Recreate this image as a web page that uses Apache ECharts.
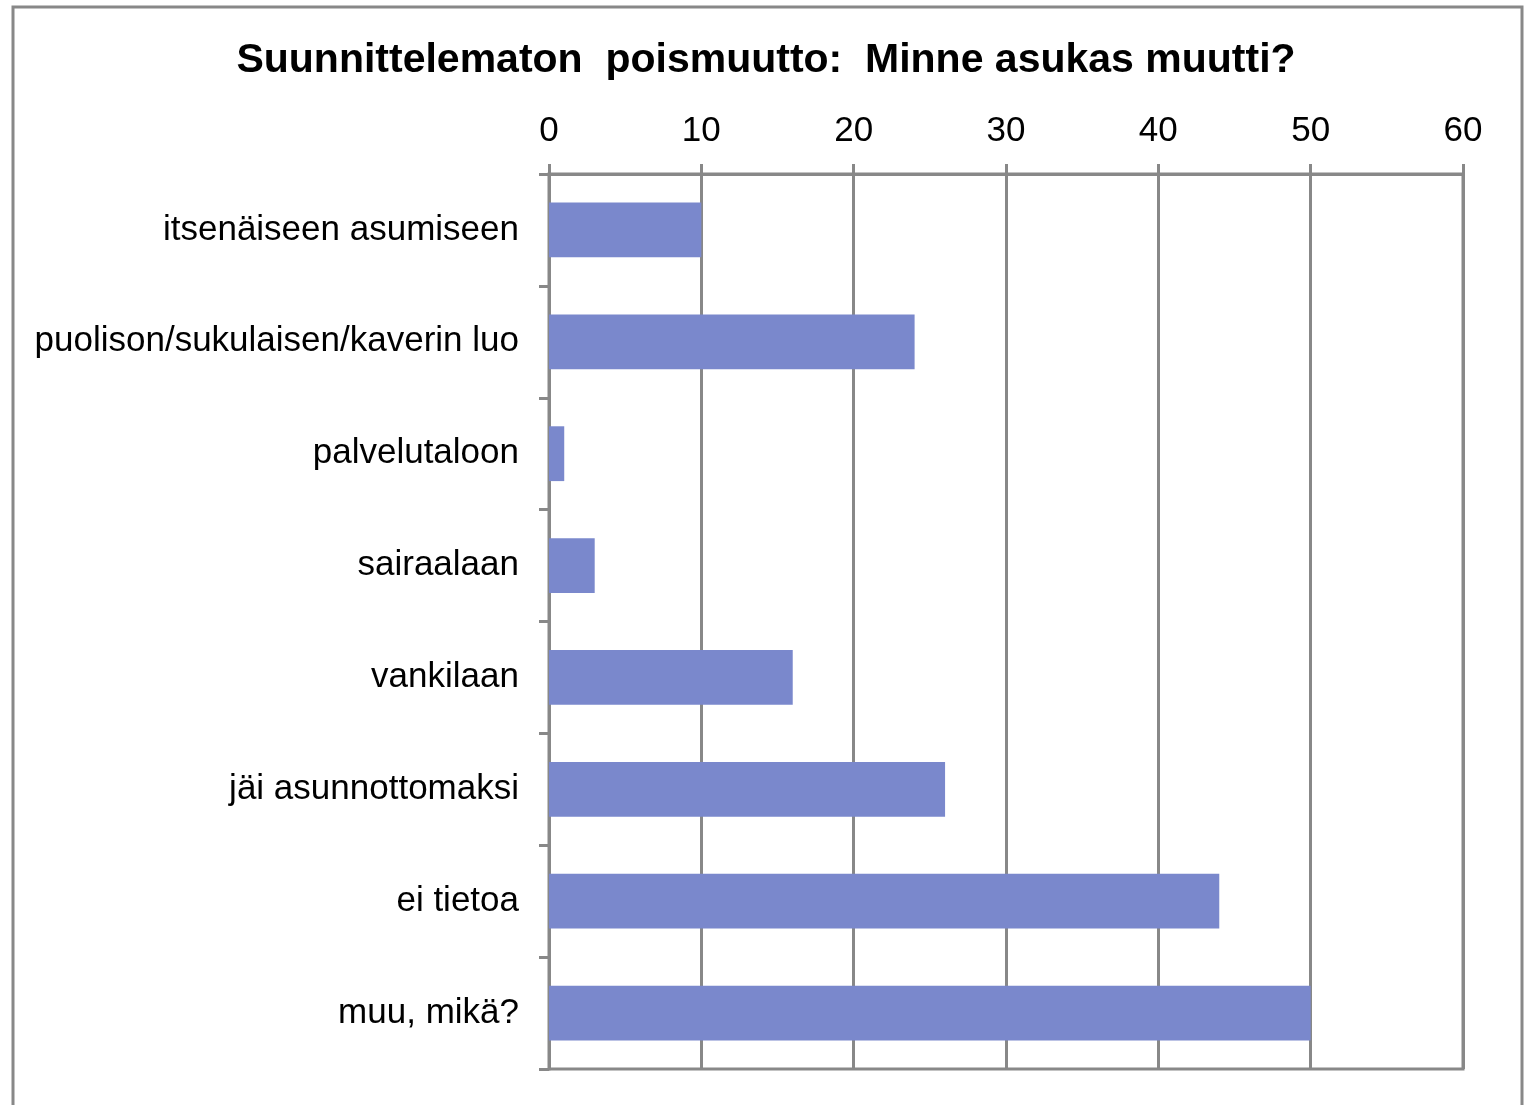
<!DOCTYPE html>
<html>
<head>
<meta charset="utf-8">
<script src="https://cdn.jsdelivr.net/npm/echarts@6/dist/echarts.min.js"></script>
<style>
  html, body { margin: 0; padding: 0; background: #fff; }
  #main { width: 1532px; height: 1105px; }
</style>
</head>
<body>
<div id="main"></div>
<script>
var categories = [
    'itsenäiseen asumiseen',
    'puolison/sukulaisen/kaverin luo',
    'palvelutaloon',
    'sairaalaan',
    'vankilaan',
    'jäi asunnottomaksi',
    'ei tietoa',
    'muu, mikä?'
];
var counts = [10, 24, 1, 3, 16, 26, 44, 50];
var titleText = 'Suunnittelematon  poismuutto:  Minne asukas muutti?';

var chartDom = document.getElementById('main');
var myChart = echarts.init(chartDom);
var option;

var gray = '#888888';

option = {
    backgroundColor: '#ffffff',
    animation: false,
    title: {
        text: titleText,
        left: 'center',
        top: 35,
        textStyle: {
            fontFamily: 'Liberation Sans, Arial',
            fontSize: 41,
            fontWeight: 'bold',
            color: '#000'
        }
    },
    graphic: [
        {
            type: 'rect',
            shape: { x: 13, y: 7, width: 1509, height: 1120 },
            style: { fill: 'none', stroke: gray, lineWidth: 3 },
            silent: true
        }
    ],
    grid: {
        left: 549,
        right: 69,
        top: 174,
        bottom: 36,
        show: true,
        borderColor: gray,
        borderWidth: 3
    },
    xAxis: {
        type: 'value',
        position: 'top',
        min: 0,
        max: 60,
        interval: 10,
        axisLine: { show: true, lineStyle: { color: gray, width: 3 } },
        axisTick: { show: true, inside: false, length: 10, lineStyle: { color: gray, width: 3 } },
        splitLine: { show: true, lineStyle: { color: gray, width: 3 } },
        axisLabel: {
            margin: 25,
            fontFamily: 'Liberation Sans, Arial',
            fontSize: 35,
            color: '#000'
        }
    },
    yAxis: {
        type: 'category',
        data: categories,
        inverse: true,
        axisLine: { show: true, lineStyle: { color: gray, width: 3 } },
        axisTick: { show: true, inside: false, length: 10, alignWithLabel: false, lineStyle: { color: gray, width: 3 } },
        axisLabel: {
            margin: 30,
            padding: [4, 0, 0, 0],
            fontFamily: 'Liberation Sans, Arial',
            fontSize: 35,
            color: '#000'
        }
    },
    series: [
        {
            name: 'Minne asukas muutti',
            type: 'bar',
            data: counts,
            barWidth: '49%',
            itemStyle: { color: '#7a88cc' }
        }
    ]
};

option && myChart.setOption(option);
</script>
</body>
</html>
